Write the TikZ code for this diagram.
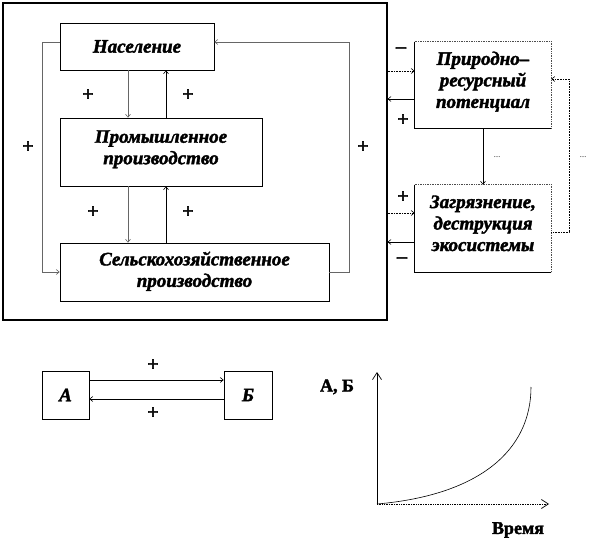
\documentclass[tikz,border=0pt]{standalone}
\usepackage{fontspec}
\setmainfont{Liberation Serif}[BoldFeatures={FakeBold=2}, BoldItalicFeatures={FakeBold=2}]
\usetikzlibrary{arrows.meta,calc}
\newcommand{\liftup}[1]{\\[#1]\mbox{}}
\begin{document}
\begin{tikzpicture}[x=1pt,y=-1pt,
  box/.style={draw=black, line width=0.7pt, inner sep=0pt, align=center,
    font=\fontsize{19}{21.5}\selectfont\bfseries\itshape},
  rbox/.style={box, draw=none},
  conn/.style={line width=0.6pt, -{Straight Barb[length=3pt,width=5pt]}},
  gconn/.style={conn, draw=black!60},
  dconn/.style={conn, densely dotted},
  sign/.style={font=\fontsize{20}{20}\selectfont\bfseries, inner sep=0pt},
  dots/.style={font=\fontsize{7}{7}\selectfont, inner sep=0pt},
  axis/.style={line width=0.7pt, -{Straight Barb[length=7pt,width=9pt]}},
  lbl/.style={font=\fontsize{18}{18}\selectfont\bfseries, inner sep=0pt}]
\useasboundingbox (0,0) rectangle (589,556);
% outer frame
\node[draw, line width=1.1pt, minimum width=384pt, minimum height=317pt, inner sep=0pt] (frame) at (195,161.5) {};
% main boxes
\node[box, minimum width=154pt, minimum height=47pt] (pop) at (137,46.5) {Население};
\node[box, minimum width=202pt, minimum height=68pt] (ind) at (161,152) {Промышленное\\производство\liftup{-12pt}};
\node[box, minimum width=269pt, minimum height=58pt] (agr) at (194.5,272) {Сельскохозяйственное\\производство\liftup{-16pt}};
% right boxes
\node[rbox, minimum width=136pt, minimum height=86pt] (nat) at (483,85) {Природно–\\ресурсный\\потенциал\liftup{-11pt}};
\node[rbox, minimum width=136pt, minimum height=87pt] (pol) at (483,228.5) {Загрязнение,\\деструкция\\экосистемы\liftup{-11pt}};
\foreach \b in {nat,pol}{
  \draw[line width=0.7pt] (\b.north west) -- (\b.south west) -- (\b.south east);
  \draw[line width=0.7pt, densely dotted, black!70] (\b.north west) -- (\b.north east) -- (\b.south east);
}
% bottom boxes
\node[box, minimum width=47pt, minimum height=48pt] (A) at (65.5,395) {А};
\node[box, minimum width=48pt, minimum height=48pt] (B) at (248,395) {Б};
% helper coordinates
\coordinate (xa) at (128,0);
\coordinate (xb) at (166,0);
\coordinate (y42) at (0,42);
\coordinate (y272) at (0,272);
\coordinate (y71) at (0,71);
\coordinate (y99) at (0,99);
\coordinate (y213) at (0,213);
\coordinate (y242) at (0,242);
\coordinate (y232) at (0,232);
\coordinate (y79) at (0,79);
\coordinate (y380) at (0,380);
\coordinate (y399) at (0,399);
% main connectors
\draw[gconn] (pop.south -| xa) -- (ind.north -| xa);
\draw[conn] (ind.north -| xb) -- (pop.south -| xb);
\draw[gconn] (ind.south -| xa) -- (agr.north -| xa);
\draw[conn] (agr.north -| xb) -- (ind.south -| xb);
\draw[gconn] (pop.west |- y42) -- (42,42) -- (42,272) -- (agr.west |- y272);
\draw[gconn] (agr.east |- y272) -- (349,272) -- (349,42) -- (pop.east |- y42);
% right connectors
\draw[dconn] (frame.east |- y71) -- (nat.west |- y71);
\draw[conn] (nat.west |- y99) -- (frame.east |- y99);
\draw[dconn] (frame.east |- y213) -- (pol.west |- y213);
\draw[conn] (pol.west |- y242) -- (frame.east |- y242);
\draw[conn] (nat.south) -- (pol.north);
\draw[dconn] (pol.east |- y232) -- (569,232) -- (569,79) -- (nat.east |- y79);
% signs
\node[sign] (s1) at (88,95) {+};
\node[sign] (s2) at (188,95) {+};
\node[sign] (s3) at (28,147) {+};
\node[sign] (s4) at (363,147) {+};
\node[sign] (s5) at (93,212) {+};
\node[sign] (s6) at (188,212) {+};
\node[sign] (s7) at (401,50) {–};
\node[sign] (s8) at (403,120) {+};
\node[sign] (s9) at (403,197) {+};
\node[sign] (s10) at (402,260) {–};
\node[dots] (d1) at (497,157) {....};
\node[dots] (d2) at (583,157) {....};
% bottom left
\draw[conn] (A.east |- y380) -- (B.west |- y380);
\draw[conn] (B.west |- y399) -- (A.east |- y399);
\node[sign] (s11) at (153,365) {+};
\node[sign] (s12) at (153,413) {+};
% graph
\coordinate (O) at (377,504);
\coordinate (Ytop) at (377,372);
\coordinate (Xend) at (549,504);
\coordinate (Cend) at (531,387);
\draw[axis] (O) -- (Ytop);
\draw[axis, densely dotted] (O) -- (Xend);
\draw[line width=0.6pt] (O) .. controls (480,495) and (531,450) .. (Cend);
\node[lbl] (ab) at (337,387) {А, Б};
\node[lbl] (t) at (518,530) {Время};
\end{tikzpicture}
\end{document}
